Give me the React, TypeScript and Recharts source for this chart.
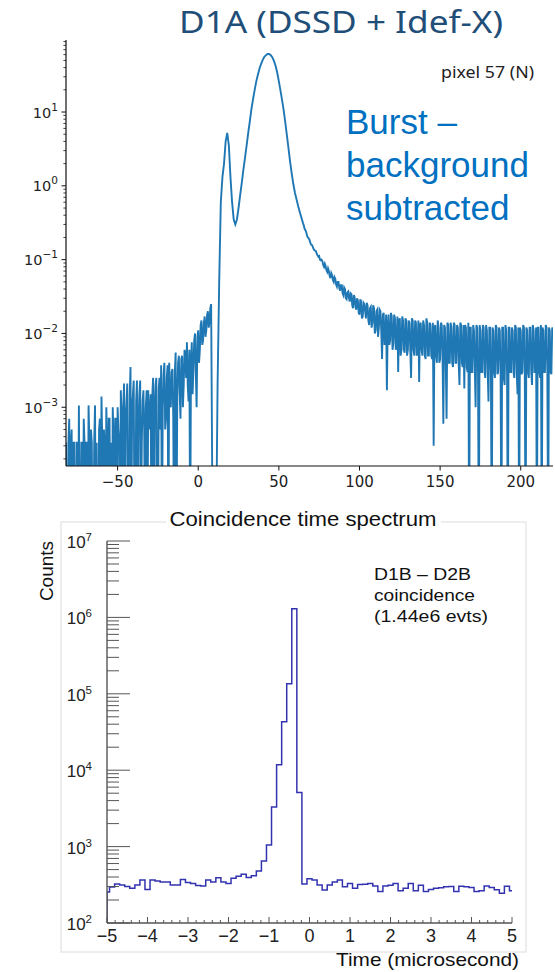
import React from 'react';
import { LineChart, Line, XAxis, YAxis } from 'recharts';

// ---- top panel: D1A burst spectrum, background subtracted (pixel 57) ----
const Z = 1e-5; // empty / negative bins, fall below the axis

// samples on whole units, from -82 to 220
const burstStart = -82;
const burstValues = [
  3.3e-4, Z, 7e-4, 3.3e-4, Z, 3.3e-4, Z, 3.3e-4, 1.06e-3, Z,
  3.3e-4, 7e-4, Z, 3.3e-4, 1.06e-3, Z, 3.3e-4, Z, 1.06e-3, 3.3e-4,
  Z, 7e-4, 1.4e-3, Z, 3.3e-4, 1e-3, Z, 7e-4, 3.3e-4, 1e-3,
  Z, 7e-4, 1e-3, 3.3e-4, 1.7e-3, Z, 2.1e-3, 7e-4, 2.1e-3, Z,
  3.5e-3, 1e-3, 2.3e-3, Z, 2.3e-3, 7e-4, 2.3e-3, 3.3e-4, 1.7e-3, Z,
  1.7e-3, 1.7e-3, 7e-4, Z, 2.5e-3, 1e-3, 2.5e-3, Z, 2.5e-3, 3.7e-3,
  1e-3, 4e-3, 7e-4, 3.7e-3, 4e-3, 1e-3, 3.3e-3, Z, 5.5e-3, 1.4e-3,
  5e-3, 7e-4, 5e-3, 2e-3, 5.2e-3, 7.6e-3, 1.2e-3, Z, 7.6e-3, 3e-3,
  1e-2, 1e-3, 1.1e-2, 6e-3, 1.5e-2, 8e-3, 1.7e-2, 1.1e-2, 2e-2, 1.4e-2,
  2.5e-2, Z, Z, Z, 2e-3, 0.05, 0.6, 1.3, 2.0, 4.0,
  5.2, 3.5, 1.3, 0.6, 0.35, 0.3, 0.35, 0.5, 0.75, 1.1,
  1.65, 2.4, 3.5, 5.2, 7.5, 11, 15, 20, 26, 32,
  39, 45, 51, 56, 59, 61, 61, 59, 55, 49,
  42, 34, 26, 19.5, 14.5, 10.5, 7.2, 4.8, 3.2, 2.1,
  1.45, 1.05, 0.8, 0.65, 0.53, 0.44, 0.37,
  0.31, 0.26, 0.235, 0.2, 0.185, 0.16, 0.15, 0.135, 0.13, 0.115,
  0.112, 0.098, 0.095, 0.08, 0.082, 0.068, 0.07, 0.056, 0.062, 0.05,
  0.055, 0.043, 0.05, 0.038, 0.045, 0.033, 0.04, 0.029, 0.037, 0.027,
  0.034, 0.022, 0.031, 0.021, 0.028, 0.018, 0.027, 0.017, 0.025, 0.016,
  0.024, 0.013, 0.023, 0.014, 0.022, 0.011, 0.021, 0.012, 0.02, 0.0045,
  0.019, 0.009, 0.0017, 0.018, 0.008, 0.017, 0.0075, 0.016, 0.0065, 0.003,
  0.016, 0.006, 0.015, 0.0055, 0.015, 0.006, 0.014, 0.0025, 0.015, 0.005,
  0.014, 0.006, 0.0022, 0.014, 0.005, 0.013, 0.0045, 0.014, 0.005, 0.013,
  0.0045, 0.0003, 0.013, 0.004, 0.012, 0.0045, 0.013, 0.0006, 0.012, 0.0007,
  0.013, 0.004, 0.012, 0.0035, 0.013, 0.004, 0.012, 0.002, 0.013, 0.0035,
  0.0018, 0.012, 0.003, Z, 0.012, 0.003, 0.011, 0.001, 0.012, Z,
  0.011, 0.003, 0.012, 0.0025, 0.011, 0.0012, 0.012, Z, 0.011, 0.0025,
  0.012, 0.003, 0.011, Z, 0.012, 0.002, 0.011, Z, 0.012, 0.003,
  0.011, 0.0025, 0.012, 0.0015, Z, 0.011, 0.003, 0.012, Z, 0.011,
  0.0025, 0.012, 0.002, 0.011, 0.003, Z, 0.012, 0.0025, Z, 0.011,
  0.003, 0.012, Z, 0.011, 0.0028, 0.011,
];

// extra half-unit samples in the noisy stretches
const burstMidLeftStart = -81.5; // up to 7.5
const burstMidLeft = [
  Z, 3.3e-4, Z, 5e-4, 3.3e-4, Z, 3.3e-4, Z, Z, 3.3e-4,
  Z, 3.3e-4, 3.3e-4, Z, 3.3e-4, 5e-4, Z, 3.3e-4, Z, Z,
  5e-4, Z, 3.3e-4, 5e-4, Z, 3.3e-4, 7e-4, Z, Z, 3.3e-4,
  7e-4, Z, 5e-4, Z, 7e-4, 1e-3, Z, 1.2e-3, Z, 1.4e-3,
  Z, 1.5e-3, Z, 1.2e-3, Z, 1.5e-3, Z, 1.2e-3, 5e-4, 1e-3,
  Z, 5e-4, 1.5e-3, 1.4e-3, Z, 2e-3, Z, 1.8e-3, 5e-4, Z,
  2.8e-3, 5e-4, 2.5e-3, Z, 1.2e-3, 3e-3, 8e-4, 3e-3, Z, 4e-3,
  1.5e-3, 4.5e-3, 1e-3, 6e-3, 2.5e-3, 2e-3, 6e-3, 4e-3, 1.5e-3, 8e-3,
  3e-3, 9e-3, 4e-3, 1.3e-2, 7e-3, 1.4e-2, 9e-3, 1.8e-2, 1.2e-2, 2.2e-2,
];
const burstMidTailStart = 65.5; // up to 219.5
const burstMidTail = [
  0.29, 0.25, 0.21, 0.195, 0.17, 0.158, 0.14, 0.132, 0.12, 0.11,
  0.1, 0.1, 0.085, 0.088, 0.072, 0.076, 0.06, 0.066, 0.053, 0.058,
  0.046, 0.05, 0.041, 0.045, 0.035, 0.042, 0.03, 0.036, 0.03, 0.035,
  0.024, 0.033, 0.023, 0.03, 0.019, 0.029, 0.016, 0.026, 0.02, 0.026,
  0.015, 0.022, 0.012, 0.024, 0.01, 0.02, 0.009, 0.021, 0.011, 0.018,
  0.007, 0.018, 0.012, 0.007, 0.019, 0.006, 0.018, 0.006, 0.017, 0.015,
  0.005, 0.017, 0.006, 0.016, 0.005, 0.015, 0.006, 0.016, 0.006, 0.015,
  0.005, 0.015, 0.013, 0.006, 0.015, 0.005, 0.016, 0.005, 0.014, 0.005,
  0.014, 0.012, 0.005, 0.015, 0.004, 0.014, 0.005, 0.013, 0.004, 0.014,
  0.004, 0.014, 0.004, 0.014, 0.004, 0.013, 0.004, 0.014, 0.004, 0.013,
  0.013, 0.0035, 0.014, 0.012, 0.003, 0.013, 0.0035, 0.013, 0.003, 0.013,
  0.003, 0.013, 0.003, 0.013, 0.003, 0.012, 0.003, 0.012, 0.003, 0.013,
  0.0028, 0.012, 0.003, 0.012, 0.0025, 0.013, 0.003, 0.012, 0.003, 0.012,
  0.003, 0.013, 0.003, 0.012, 0.012, 0.0028, 0.013, 0.003, 0.012, 0.003,
  0.012, 0.003, 0.013, 0.003, 0.012, 0.012, 0.003, 0.013, 0.012, 0.003,
  0.013, 0.003, 0.012, 0.003, 0.012,
];
const burstXTicks = [-50, 0, 50, 100, 150, 200];
const burstYMajor = [1e-3, 1e-2, 1e-1, 1, 10];

// ---- bottom panel: D1B - D2B coincidence time spectrum ----
const coincFirstCenter = -5; // microsecond
const coincBinWidth = 0.125;
const coincCounts = [
  255, 295, 325, 315, 300, 285, 315, 365, 275, 365,
  355, 345, 345, 315, 315, 370, 340, 330, 310, 305,
  365, 345, 390, 345, 330, 385, 410, 435, 395, 415,
  480, 650, 1050, 3300, 11800, 43000, 135000, 1300000, 5100,
  325, 380, 365, 315, 270, 315, 345, 365, 298, 330,
  285, 320, 322, 330, 305, 258, 305, 312, 330, 265,
  285, 330, 265, 312, 258, 275, 285, 290, 298, 300,
  258, 303, 298, 292, 258, 265, 305, 292, 272, 245,
  303, 265,
];
const coincXMajor = [-5, -4, -3, -2, -1, 0, 1, 2, 3, 4, 5];
const coincYMajor = [1e2, 1e3, 1e4, 1e5, 1e6, 1e7];

const W = 555;
const H = 972;

function logMinors(majors: number[], lo: number, hi: number) {
  const out: number[] = [];
  const start = majors[0] / 10;
  for (let d = start; d <= majors[majors.length - 1] * 1.0001; d *= 10) {
    for (let m = 1; m <= 9; m++) {
      const v = d * m;
      if (v >= lo && v <= hi) out.push(v);
    }
  }
  return out;
}

const isDecade = (v: number) => Math.abs(Math.log10(v) - Math.round(Math.log10(v))) < 1e-6;
const expText = (v: number) => {
  const e = Math.round(Math.log10(v));
  return e < 0 ? '\u2212' + Math.abs(e) : String(e);
};

const MPL = 'DejaVu Sans, sans-serif';
const ROOT = 'Liberation Sans, Arial, sans-serif';

const TopXTick = (p: any) => {
  const { x, y, payload } = p;
  const v = payload.value;
  return (
    <g>
      <line x1={x} x2={x} y1={y} y2={y + 4.5} stroke="#111" strokeWidth={1} />
      <text x={x} y={y + 21} textAnchor="middle" fontSize={15} fontFamily={MPL} fill="#222">
        {v < 0 ? '\u2212' + Math.abs(v) : v}
      </text>
    </g>
  );
};

const TopYTick = (p: any) => {
  const { x, y, payload } = p;
  const v = payload.value;
  const major = isDecade(v);
  return (
    <g>
      <line x1={x} x2={x - (major ? 4.5 : 2.6)} y1={y} y2={y} stroke="#111" strokeWidth={major ? 1 : 0.8} />
      {major && (
        <text x={x - 8} y={y + 5.5} textAnchor="end" fontSize={14.5} fontFamily={MPL} fill="#222">
          10<tspan dy={-7} fontSize={10.5}>{expText(v)}</tspan>
        </text>
      )}
    </g>
  );
};

const BotXTick = (p: any) => {
  const { x, y, payload } = p;
  const v = payload.value;
  const major = Math.abs(v - Math.round(v)) < 1e-6;
  return (
    <g>
      <line x1={x} x2={x} y1={y} y2={y - (major ? 6 : 3)} stroke="#555" strokeWidth={1} />
      {major && (
        <text x={x} y={y + 19} textAnchor="middle" fontSize={18} fontFamily={ROOT} fill="#222">
          {v < 0 ? '\u2212' + Math.abs(v) : v}
        </text>
      )}
    </g>
  );
};

const BotYTick = (p: any) => {
  const { x, y, payload } = p;
  const v = payload.value;
  const major = isDecade(v);
  return (
    <g>
      <line x1={x} x2={x + (major ? 23 : 12)} y1={y} y2={y} stroke="#555" strokeWidth={1} />
      {major && (
        <text x={x - 15} y={y + 7} textAnchor="end" fontSize={17} fontFamily={ROOT} fill="#222">
          10<tspan dy={-7} fontSize={11.5}>{expText(v)}</tspan>
        </text>
      )}
    </g>
  );
};

export default function App() {
  const burstData = [
    ...burstValues.map((v, i) => ({ t: burstStart + i, v })),
    ...burstMidLeft.map((v, i) => ({ t: burstMidLeftStart + i, v })),
    ...burstMidTail.map((v, i) => ({ t: burstMidTailStart + i, v })),
  ].sort((a, b) => a.t - b.t);
  const burstYTicks = logMinors(burstYMajor, 1.6e-4, 94.6);

  // step outline: bins centred on multiples of the bin width, clipped to [-5, 5]
  const coincData: { t: number; c: number }[] = [{ t: -5, c: 100 }];
  coincCounts.forEach((c, k) => {
    const left = Math.max(-5, coincFirstCenter + k * coincBinWidth - coincBinWidth / 2);
    coincData.push({ t: left, c });
  });
  coincData.push({ t: 5, c: coincCounts[coincCounts.length - 1] });

  const coincXTicks: number[] = [];
  for (let i = 0; i <= 50; i++) coincXTicks.push(Math.round((coincXMajor[0] + i * 0.2) * 10) / 10);
  const coincYTicks = logMinors(coincYMajor, 100, 1e7);

  const spine = { stroke: '#111', strokeWidth: 1.2 };
  const frame = { stroke: '#555', strokeWidth: 1.4 };

  return (
    <div style={{ position: 'absolute', left: 0, top: 0, width: W, height: H, background: '#fff', overflow: 'hidden' }}>
      <div style={{ position: 'absolute', left: 0, top: 0 }}>
        <LineChart width={W} height={H} data={burstData} margin={{ top: 40, right: 2, left: 6, bottom: 476 }}>
          <XAxis dataKey="t" type="number" domain={[-82, 220]} allowDataOverflow ticks={burstXTicks} interval={0}
            height={30} tickSize={0} tickMargin={0} tickLine={false} axisLine={spine} tick={(p: any) => <TopXTick {...p} />} />
          <XAxis xAxisId="top" orientation="top" type="number" domain={[0, 1]} height={0} tick={false} tickLine={false} axisLine={spine} />
          <YAxis type="number" scale="log" domain={[1.6e-4, 94.6]} allowDataOverflow ticks={burstYTicks} interval={0}
            width={60} tickSize={0} tickMargin={0} tickLine={false} axisLine={spine} tick={(p: any) => <TopYTick {...p} />} />
          <YAxis yAxisId="right" orientation="right" type="number" domain={[0, 1]} width={0} tick={false} tickLine={false} axisLine={spine} />
          <Line dataKey="v" type="linear" stroke="#1f77b4" strokeWidth={1.9} dot={false} isAnimationActive={false} />
        </LineChart>
      </div>

      <div style={{ position: 'absolute', left: 0, top: 0 }}>
        <LineChart width={W} height={H} data={coincData} margin={{ top: 541, right: 43, left: 57, bottom: 24 }}>
          <XAxis dataKey="t" type="number" domain={[-5, 5]} allowDataOverflow ticks={coincXTicks} interval={0}
            height={25} tickSize={0} tickMargin={0} tickLine={false} axisLine={frame} tick={(p: any) => <BotXTick {...p} />} />
          <XAxis xAxisId="top" orientation="top" type="number" domain={[0, 1]} height={0} tick={false} tickLine={false} axisLine={frame} />
          <YAxis type="number" scale="log" domain={[100, 1e7]} allowDataOverflow ticks={coincYTicks} interval={0}
            width={50} tickSize={0} tickMargin={0} tickLine={false} axisLine={frame} tick={(p: any) => <BotYTick {...p} />} />
          <YAxis yAxisId="right" orientation="right" type="number" domain={[0, 1]} width={0} tick={false} tickLine={false} axisLine={frame} />
          <Line dataKey="c" type="stepAfter" stroke="#3333b0" strokeWidth={1.5} dot={false} isAnimationActive={false} />
        </LineChart>
      </div>

      <svg width={W} height={H} style={{ position: 'absolute', left: 0, top: 0, pointerEvents: 'none' }}>
        <text x={341} y={33} textAnchor="middle" fontSize={31} fontFamily="Noto Sans, sans-serif" fill="#1f4e79"
          textLength={324} lengthAdjust="spacingAndGlyphs">D1A (DSSD + Idef-X)</text>
        <text x={441} y={78} fontSize={17} fontFamily="Noto Sans, sans-serif" fill="#222"
          textLength={93} lengthAdjust="spacingAndGlyphs">pixel 57 (N)</text>
        <g fontSize={35} fontFamily={ROOT} fill="#0070c0">
          <text x={346} y={134}>Burst –</text>
          <text x={346} y={177}>background</text>
          <text x={346} y={220}>subtracted</text>
        </g>

        <rect x={61} y={522} width={465} height={430} fill="none" stroke="#dcdcdc" strokeWidth={1} />
        <rect x={166} y={510} width={275} height={22} fill="#fff" />
        <text x={303} y={526} textAnchor="middle" fontSize={20} fontFamily={ROOT} fill="#111"
          textLength={267} lengthAdjust="spacingAndGlyphs">Coincidence time spectrum</text>
        <text x={53} y={571} transform="rotate(-90 53 571)" textAnchor="middle" fontSize={19} fontFamily={ROOT} fill="#111">Counts</text>
        <g fontSize={16.5} fontFamily={ROOT} fill="#111">
          <text x={374} y={580} textLength={97} lengthAdjust="spacingAndGlyphs">D1B – D2B</text>
          <text x={374} y={601} textLength={101} lengthAdjust="spacingAndGlyphs">coincidence</text>
          <text x={374} y={622} textLength={114} lengthAdjust="spacingAndGlyphs">(1.44e6 evts)</text>
        </g>
        <text x={519} y={966} textAnchor="end" fontSize={19} fontFamily={ROOT} fill="#111"
          textLength={183} lengthAdjust="spacingAndGlyphs">Time (microsecond)</text>
      </svg>
    </div>
  );
}
